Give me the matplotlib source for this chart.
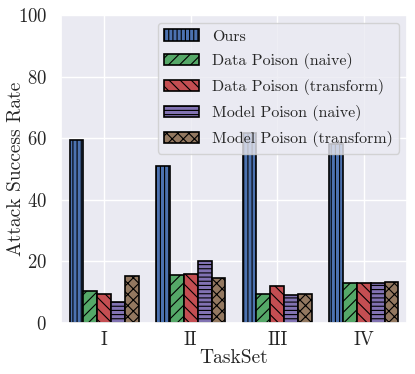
import matplotlib
matplotlib.use("Agg")
import matplotlib.pyplot as plt
import numpy as np
import seaborn as sns

tasksets = ["I", "II", "III", "IV"]
series_names = ["Ours", "Data Poison (naive)", "Data Poison (transform)",
                "Model Poison (naive)", "Model Poison (transform)"]
ours = [59.3, 50.9, 61.8, 58.2]
data_naive = [10.4, 15.5, 9.5, 13.0]
data_transform = [9.5, 16.0, 11.9, 13.0]
model_naive = [6.8, 20.1, 9.0, 13.0]
model_transform = [15.2, 14.7, 9.5, 13.2]
values = [ours, data_naive, data_transform, model_naive, model_transform]

colors = ["#4C72B0", "#55A868", "#C44E52", "#8172B2", "#937860"]
hatches = ["||||", "///", "\\\\\\", "----", "xxx"]

sns.set_theme(style="darkgrid")
plt.rcParams["font.family"] = ["cmr10", "DejaVu Sans"]
plt.rcParams["axes.formatter.use_mathtext"] = True
plt.rcParams["hatch.linewidth"] = 0.8

fig = plt.figure(figsize=(4.15, 3.74), dpi=100)
ax = fig.add_axes([61/415, 1-323/374, (407-61)/415, (323-15)/374])

x = np.arange(len(tasksets))
group_w = 0.8
bw = group_w / len(values)
for i, (name, vals) in enumerate(zip(series_names, values)):
    ax.bar(x - group_w/2 + bw*(i+0.5), vals, width=bw, color=colors[i],
           edgecolor="black", linewidth=1.2, hatch=hatches[i], label=name)

ax.set_xlim(-0.5, 3.5)
ax.set_ylim(0, 100)
ax.set_yticks([0, 20, 40, 60, 80, 100])
ax.set_xticks(x)
ax.set_xticklabels(tasksets)
ax.tick_params(axis="y", labelsize=13.5, pad=4)
ax.tick_params(axis="x", labelsize=13.5, pad=0)
ax.set_xlabel("TaskSet", fontsize=14, labelpad=0)
ax.set_ylabel("Attack Success Rate", fontsize=14)
ax.yaxis.set_label_coords(-0.104, 0.5)
ax.legend(loc="upper right", fontsize=11.5, handlelength=2.2,
          labelspacing=0.62, borderaxespad=0.5)

fig.savefig("out.png", dpi=100)
